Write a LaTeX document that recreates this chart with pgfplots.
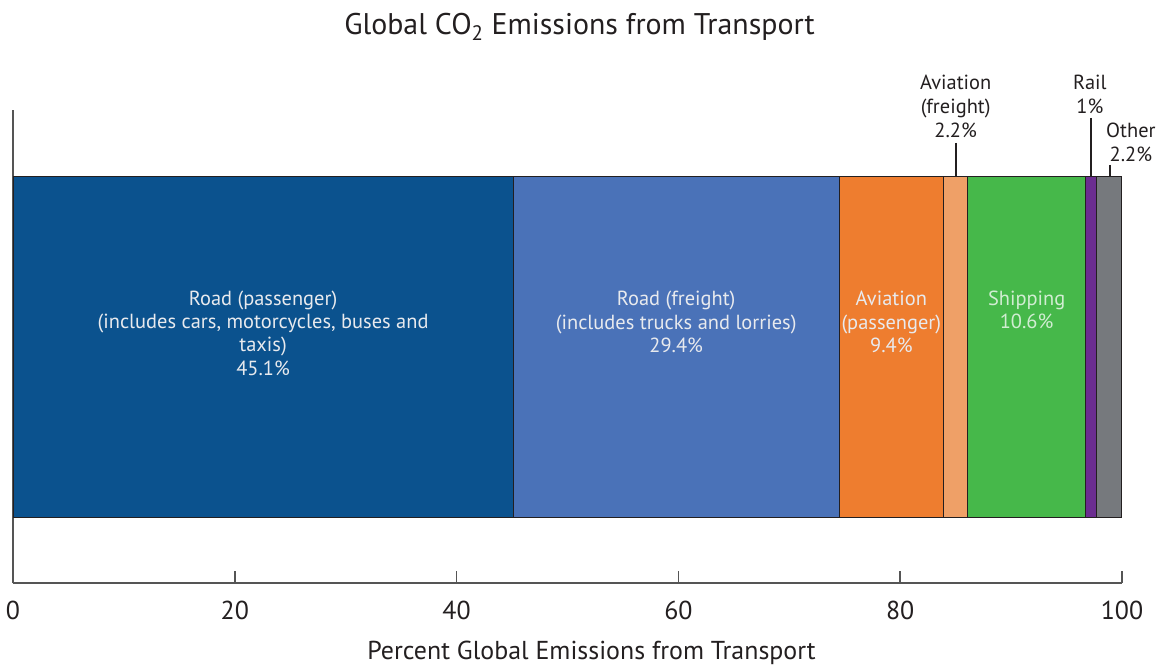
\documentclass[border=0pt]{standalone}
\usepackage{pgfplots}
\pgfplotsset{compat=1.18}
\usepackage{fontspec}
\setmainfont{PT Sans}

\definecolor{roadpass}{HTML}{0B528E}
\definecolor{roadfreight}{HTML}{4A72B8}
\definecolor{avpass}{HTML}{EE7D2F}
\definecolor{avfreight}{HTML}{EFA067}
\definecolor{shipping}{HTML}{46B84A}
\definecolor{rail}{HTML}{6B2D90}
\definecolor{other}{HTML}{76797D}
\definecolor{axisgray}{HTML}{555555}
\definecolor{txt}{HTML}{231F20}
\definecolor{intxt}{HTML}{E8EAEE}

\begin{document}
\begin{tikzpicture}
\begin{axis}[
    scale only axis,
    width=1109bp, height=473bp,
    xmin=0, xmax=100,
    ymin=0, ymax=473,
    xbar stacked,
    bar width=341,
    axis x line=bottom, axis y line=left,
    axis line style={-, axisgray, line width=1.6bp},
    xtick={0,20,...,100},
    ytick=\empty,
    tick align=inside,
    major tick length=12bp,
    tick style={axisgray, line width=1.6bp},
    xticklabel style={font=\fontsize{26}{30}\selectfont, text=txt, yshift=-15bp},
    /pgf/number format/assume math mode=true,
    xlabel={Percent Global Emissions from Transport},
    xlabel style={font=\fontsize{26}{30}\selectfont, text=txt, yshift=-14bp, xshift=24bp},
    title={Global CO\textsubscript{2} Emissions from Transport},
    title style={font=\fontsize{30}{35}\selectfont, text=txt, yshift=60bp, xshift=12bp},
    clip=false,
]
\addplot[fill=roadpass, draw=txt, line width=0.8bp] coordinates {(45.1,236.5)};
\addplot[fill=roadfreight, draw=txt, line width=0.8bp] coordinates {(29.4,236.5)};
\addplot[fill=avpass, draw=txt, line width=0.8bp] coordinates {(9.4,236.5)};
\addplot[fill=avfreight, draw=txt, line width=0.8bp] coordinates {(2.2,236.5)};
\addplot[fill=shipping, draw=txt, line width=0.8bp] coordinates {(10.6,236.5)};
\addplot[fill=rail, draw=txt, line width=0.8bp] coordinates {(1.0,236.5)};
\addplot[fill=other, draw=txt, line width=0.8bp] coordinates {(2.2,236.5)};

% anchor points for the labels inside the bar
\coordinate (rp) at (axis cs:22.55,250);
\coordinate (rf) at (axis cs:59.8,261);
\coordinate (ap) at (axis cs:79.2,261);
\coordinate (sh) at (axis cs:91.4,273);

% labels above the bar with leader lines
\node[align=center, text=txt, font=\fontsize{20.5}{24}\selectfont]
    at (axis cs:85.0,477) {Aviation\\(freight)\\2.2\%};
\draw[txt, line width=1.6bp] (axis cs:85.05,440) -- (axis cs:85.05,407);
\node[align=center, text=txt, font=\fontsize{20.5}{24}\selectfont]
    at (axis cs:97.1,489) {Rail\\1\%};
\draw[txt, line width=1.6bp] (axis cs:97.2,465) -- (axis cs:97.2,407);
\node[align=center, text=txt, font=\fontsize{20.5}{24}\selectfont]
    at (axis cs:100.8,440.5) {Other\\2.2\%};
\draw[txt, line width=1.6bp] (axis cs:98.9,418) -- (axis cs:98.9,407);
\end{axis}

\node[align=center, text=intxt, font=\fontsize{20.5}{23.5}\selectfont]
    at (rp) {Road (passenger)\\(includes cars, motorcycles, buses and\\taxis)\\45.1\%};
\node[align=center, text=intxt, font=\fontsize{20.5}{23.5}\selectfont]
    at (rf) {Road (freight)\\(includes trucks and lorries)\\29.4\%};
\node[align=center, text=intxt, font=\fontsize{20.5}{23.5}\selectfont]
    at (ap) {Aviation\\(passenger)\\9.4\%};
\node[align=center, text=shipping!25!white, font=\fontsize{20.5}{23.5}\selectfont]
    at (sh) {Shipping\\10.6\%};

\path (-13bp,-85bp) rectangle (1154bp,583bp);
\end{tikzpicture}
\end{document}
